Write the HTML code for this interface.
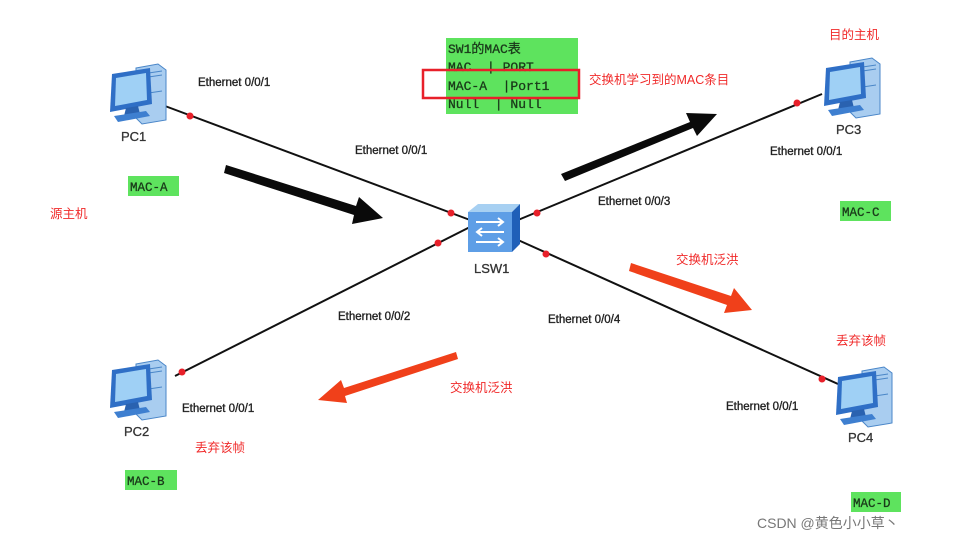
<!DOCTYPE html>
<html><head><meta charset="utf-8"><style>
body{margin:0;background:#fff;}
svg text{font-family:"Liberation Sans","Noto Sans CJK SC",sans-serif;white-space:pre;}
.mono{font-family:"Liberation Mono","Noto Sans CJK SC",monospace;}
</style></head><body>
<svg width="956" height="542" viewBox="0 0 956 542" xmlns="http://www.w3.org/2000/svg">
<defs>
<g id="pc">
<path d="M30 4 L52 0 L60 6 L60 56 L36 60 L30 54 Z" fill="#a9cdf0" stroke="#4a86c8" stroke-width="1"/>
<path d="M36 10 L56 7 M36 14 L56 11 M36 30 L56 27" stroke="#4a86c8"/>
<path d="M6 10 L44 4 L46 40 L4 48 Z" fill="#2f6fc6"/>
<path d="M10 14 L40 9 L41 36 L9 42 Z" fill="#9fd0f5"/>
<path d="M20 44 L32 42 L34 50 L18 52 Z" fill="#2a62b0"/>
<path d="M8 52 L40 47 L44 52 L12 58 Z" fill="#3e7fd0"/>
</g>
</defs>
<g stroke="#111" stroke-width="2">
<line x1="165" y1="106" x2="470" y2="220"/>
<line x1="518" y1="220" x2="822" y2="94"/>
<line x1="175" y1="376" x2="470" y2="227"/>
<line x1="518" y1="240" x2="838" y2="384"/>
</g>
<g fill="#e8202a">
<circle cx="190" cy="116" r="3.5"/><circle cx="451" cy="213" r="3.5"/>
<circle cx="537" cy="213" r="3.5"/><circle cx="797" cy="103" r="3.5"/>
<circle cx="182" cy="372" r="3.5"/><circle cx="438" cy="243" r="3.5"/>
<circle cx="546" cy="254" r="3.5"/><circle cx="822" cy="379" r="3.5"/>
</g>
<path d="M468 212 L478 204 L520 204 L512 212 Z" fill="#a7d0f2"/>
<path d="M512 212 L520 204 L520 244 L512 252 Z" fill="#1f5fb8"/>
<rect x="468" y="212" width="44" height="40" fill="#5e9ee6"/>
<g stroke="#fff" stroke-width="2" fill="none"><path d="M476 222 H502 M498 218 L503 222 L498 226"/><path d="M504 232 H478 M482 228 L477 232 L482 236"/><path d="M476 242 H502 M498 238 L503 242 L498 246"/></g>
<text x="474" y="273" font-size="13" fill="#333" stroke="#333" stroke-width="0.3">LSW1</text>
<use href="#pc" x="106" y="64"/><text x="121" y="141" font-size="13" fill="#333" stroke="#333" stroke-width="0.3">PC1</text>
<use href="#pc" x="820" y="58"/><text x="836" y="134" font-size="13" fill="#333" stroke="#333" stroke-width="0.3">PC3</text>
<use href="#pc" x="106" y="360"/><text x="124" y="436" font-size="13" fill="#333" stroke="#333" stroke-width="0.3">PC2</text>
<use href="#pc" x="832" y="367"/><text x="848" y="442" font-size="13" fill="#333" stroke="#333" stroke-width="0.3">PC4</text>
<g font-size="11.5" fill="#222" stroke="#222" stroke-width="0.35">
<text x="198" y="86">Ethernet 0/0/1</text>
<text x="355" y="154">Ethernet 0/0/1</text>
<text x="770" y="155">Ethernet 0/0/1</text>
<text x="598" y="205">Ethernet 0/0/3</text>
<text x="338" y="320">Ethernet 0/0/2</text>
<text x="548" y="323">Ethernet 0/0/4</text>
<text x="182" y="412">Ethernet 0/0/1</text>
<text x="726" y="410">Ethernet 0/0/1</text>
</g>
<g font-size="12.5" fill="#1a3a1a" stroke="#1a3a1a" stroke-width="0.3">
<rect x="128" y="176" width="51" height="20" fill="#5ee35e" stroke="none"/><text x="130" y="191" class="mono">MAC-A</text>
<rect x="125" y="470" width="52" height="20" fill="#5ee35e" stroke="none"/><text x="127" y="485" class="mono">MAC-B</text>
<rect x="840" y="201" width="51" height="20" fill="#5ee35e" stroke="none"/><text x="842" y="216" class="mono">MAC-C</text>
<rect x="851" y="492" width="50" height="20" fill="#5ee35e" stroke="none"/><text x="853" y="507" class="mono">MAC-D</text>
</g>
<rect x="446" y="38" width="132" height="76" fill="#5ee35e"/>
<g font-size="13" fill="#1a3a1a" stroke="#1a3a1a" stroke-width="0.3">
<text x="448" y="53" class="mono">SW1的MAC表</text>
<text x="448" y="71" class="mono">MAC  | PORT</text>
<text x="448" y="90" class="mono">MAC-A  |Port1</text>
<text x="448" y="108" class="mono">Null  | Null</text>
</g>
<rect x="423" y="70" width="156" height="28" fill="none" stroke="#e8202a" stroke-width="2.5"/>
<g font-size="12.5" fill="#f02a2a">
<text x="589" y="84">交换机学习到的MAC条目</text>
<text x="829" y="39">目的主机</text>
<text x="50" y="218">源主机</text>
<text x="676" y="264">交换机泛洪</text>
<text x="836" y="345">丢弃该帧</text>
<text x="450" y="392">交换机泛洪</text>
<text x="195" y="452">丢弃该帧</text>
</g>
<path d="M226 165 L356 206 L359 197 L383 218 L352 224 L354 215 L224 173 Z" fill="#0a0a0a"/>
<path d="M561 174 L690 122 L686 113 L717 114 L697 136 L693 128 L565 181 Z" fill="#0a0a0a"/>
<path d="M631 263 L731 296 L734 288 L752 310 L724 313 L727 305 L629 271 Z" fill="#f0401a"/>
<path d="M456 352 L344 388 L341 380 L318 400 L347 403 L345 396 L458 359 Z" fill="#f0401a"/>
<text x="757" y="528" font-size="14" fill="#777">CSDN @黄色小小草丶</text>
</svg>
</body></html>
